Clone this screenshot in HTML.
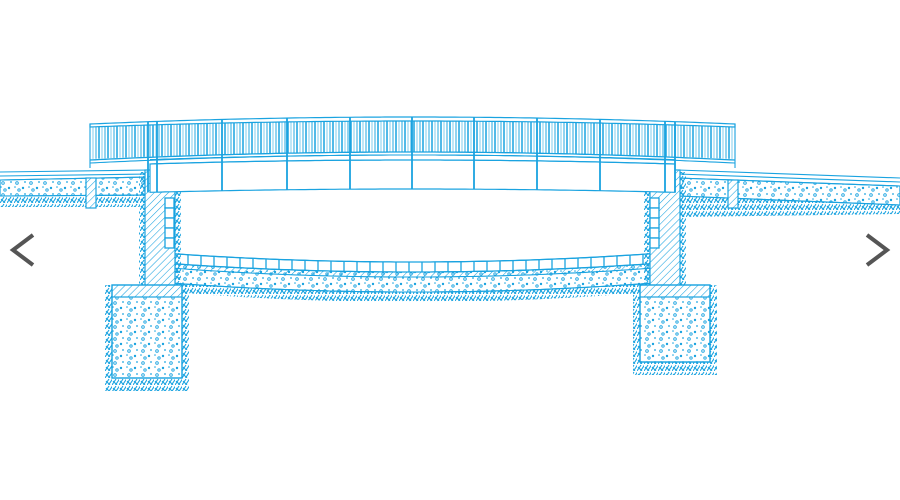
<!DOCTYPE html>
<html><head><meta charset="utf-8"><style>
html,body{margin:0;padding:0;background:#fff;width:900px;height:500px;overflow:hidden}
svg{display:block}
</style></head><body>
<svg id="s" width="900" height="500" viewBox="0 0 900 500" xmlns="http://www.w3.org/2000/svg">
<defs>
<pattern id="hatch" width="5" height="5" patternUnits="userSpaceOnUse" patternTransform="rotate(45)">
<line x1="0" y1="0" x2="0" y2="5" stroke="#1aa3e0" stroke-width="1.1"/></pattern>
<pattern id="conc" width="14" height="12" patternUnits="userSpaceOnUse">
<circle cx="3" cy="3" r="1.3" fill="none" stroke="#1aa3e0" stroke-width="0.9"/>
<circle cx="9" cy="8" r="1.2" fill="#1aa3e0"/>
<circle cx="11" cy="2" r="0.9" fill="#1aa3e0"/>
<circle cx="5" cy="10" r="1.2" fill="none" stroke="#1aa3e0" stroke-width="0.9"/>
<circle cx="1" cy="7" r="0.8" fill="#1aa3e0"/>
</pattern>
<pattern id="soil" width="7" height="7" patternUnits="userSpaceOnUse">
<path d="M0 7 L4 1 M3.5 7 L7.5 1 M1 3 L5 7" stroke="#1aa3e0" stroke-width="1.1" fill="none"/></pattern>
</defs>
<g id="g" stroke="#1aa3e0" fill="none" stroke-width="1.1"></g>
<path d="M33 235 L13 250 L33 265" stroke="#555" stroke-width="4" fill="none"/>
<path d="M867 235 L887 250 L867 265" stroke="#555" stroke-width="4" fill="none"/>
</svg>
<script>
const g=document.getElementById('g');let h='';
function q(x,mid,end){const t=(x-412)/322;return mid+(end-mid)*t*t;}
function curve(x0,x1,mid,end){let d='';for(let x=x0;x<=x1;x+=5){d+=(x==x0?'M':'L')+x+' '+q(x,mid,end).toFixed(1)+' ';}d+='L'+x1+' '+q(x1,mid,end).toFixed(1);return d;}
function poly(x0,x1,m1,e1,m2,e2){let d='';for(let x=x0;x<=x1;x+=5)d+=(x==x0?'M':'L')+x+' '+q(x,m1,e1).toFixed(1)+' ';for(let x=x1;x>=x0;x-=5)d+='L'+x+' '+q(x,m2,e2).toFixed(1)+' ';return d+'Z';}
// ground left/right
h+=`<path d="M0 185 L150 182 L150 207 L0 207Z" fill="url(#soil)" stroke="none"/>`;
h+=`<path d="M0 180 L150 177 L150 195 L0 196Z" fill="#fff"/>`;
h+=`<path d="M0 180 L150 177 L150 195 L0 196Z" fill="url(#conc)"/>`;
h+=`<path d="M0 172 L150 170 M0 176 L150 174"/>`;
h+=`<rect x="86" y="178" width="10" height="30" fill="#fff"/><rect x="86" y="178" width="10" height="30" fill="url(#hatch)"/>`;
h+=`<path d="M680 217 L900 214 L900 188 L680 195Z" fill="url(#soil)" stroke="none"/>`;
h+=`<path d="M678 178 L900 186 L900 205 L678 196Z" fill="#fff"/>`;
h+=`<path d="M678 178 L900 186 L900 205 L678 196Z" fill="url(#conc)"/>`;
h+=`<path d="M678 170 L900 178 M678 174 L900 182"/>`;
h+=`<rect x="728" y="180" width="10" height="28" fill="#fff"/><rect x="728" y="180" width="10" height="28" fill="url(#hatch)"/>`;
// riverbed
h+=`<path d="${poly(175,650,302,284,262,247)}" fill="url(#soil)" stroke="none"/>`;
h+=`<path d="${poly(175,650,292,276,270,255)}" fill="#fff"/>`;
h+=`<path d="${poly(175,650,292,276,270,255)}" fill="url(#conc)"/>`;
h+=`<path d="${poly(175,650,277,261,272,257)}" fill="url(#hatch)"/>`;
h+=`<path d="${poly(175,650,262,247,272,257)}" fill="#fff"/>`;
for(let x=175;x<650;x+=13){h+=`<line x1="${x}" y1="${q(x,262,247).toFixed(1)}" x2="${x}" y2="${q(x,272,257).toFixed(1)}" stroke-width="1.3"/>`;}
h+=`<path d="${curve(175,650,262,247)}" stroke-width="1.3"/><path d="${curve(175,650,272,257)}" stroke-width="1.3"/>`;
// abutments
[[145,175],[650,680]].forEach(([a,b])=>{
 h+=`<rect x="${a-6}" y="172" width="${b-a+12}" height="118" fill="url(#soil)" stroke="none"/>`;
 h+=`<rect x="${a}" y="170" width="${b-a}" height="118" fill="#fff"/><rect x="${a}" y="170" width="${b-a}" height="118" fill="url(#hatch)"/>`;
 const sx=a<400?165:650;
 for(let y=198;y<248;y+=10)h+=`<rect x="${sx}" y="${y}" width="9" height="10" fill="#fff" stroke-width="1.3"/>`;
});
// footings
[[112,182,285,378],[640,710,285,362]].forEach(([a,b,t,bt])=>{
 h+=`<rect x="${a-7}" y="${t}" width="${b-a+14}" height="${bt-t+13}" fill="url(#soil)" stroke="none"/>`;
 h+=`<rect x="${a}" y="${t}" width="${b-a}" height="${bt-t}" fill="#fff"/>`;
 h+=`<rect x="${a}" y="${t}" width="${b-a}" height="12" fill="url(#hatch)"/>`;
 h+=`<rect x="${a}" y="${t+12}" width="${b-a}" height="${bt-t-12}" fill="url(#conc)"/>`;
 h+=`<rect x="${a}" y="${t}" width="${b-a}" height="${bt-t}" stroke-width="1.3"/>`;
});
// deck
h+=`<path d="${poly(150,675,160,166,189,194)}" fill="#fff" stroke-width="1.2"/>`;
h+=`<path d="${curve(150,675,155,162)}"/><path d="${curve(150,675,160,166)}"/>`;
h+=`<path d="${curve(90,735,152,160)}" stroke-width="1.3"/><path d="${curve(90,735,155,163)}"/>`;
// balusters
for(let x=93;x<733;x+=3){const t=q(x,121,127),b=q(x,152,159);const k=Math.floor(x/3)%3;h+=`<line x1="${x.toFixed(1)}" y1="${t.toFixed(1)}" x2="${x.toFixed(1)}" y2="${b.toFixed(1)}" stroke-width="${k==0?1.6:1}" opacity="${k==1?0.55:0.95}"/>`;}
h+=`<path d="${poly(90,735,117,124,121,127)}" fill="#fff" stroke-width="1.2"/>`;
h+=`<line x1="90" y1="124" x2="90" y2="168"/><line x1="735" y1="124" x2="735" y2="168"/>`;
[148,157,222,287,350,412,474,537,600,665,675].forEach(x=>{h+=`<line x1="${x}" y1="${q(x,117,124)}" x2="${x}" y2="${q(x,189,194)}" stroke-width="1.8"/>`;});
g.innerHTML=h;
</script>
</body></html>
